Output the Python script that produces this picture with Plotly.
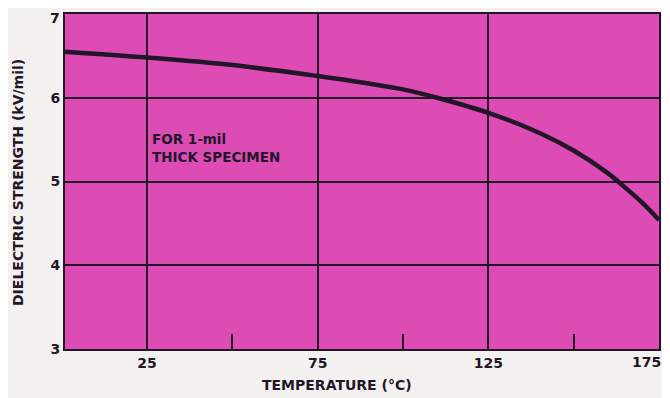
import plotly.graph_objects as go

temperature = [1, 25, 50, 75, 90, 100, 110, 125, 140, 150, 160, 165, 170, 175]
strength = [6.55, 6.48, 6.39, 6.26, 6.17, 6.10, 6.00, 5.82, 5.58, 5.37, 5.10, 4.93, 4.75, 4.54]
x_ticks = [25, 75, 125, 175]
x_labels = ["25", "75", "125", "175"]
y_ticks = [3, 4, 5, 6, 7]
y_labels = ["3", "4", "5", "6", "7"]
minor_x = [50, 100, 150]

ink = "#221628"
fnt = "DejaVu Sans, Verdana, Arial"
tick_font = dict(size=14, family=fnt, color=ink, weight="bold")

# page body adds an 8px offset; margins are given in figure pixels
OFF = 8
W, H = 670, 398
L, T = 65 - OFF, 14 - OFF
R = W - (659 - OFF)
B = H - (349 - OFF)
pw, ph = W - L - R, H - T - B


def px_to_paper(xp, yp):
    return (xp - OFF - L) / pw, (H - B - (yp - OFF)) / ph


fig = go.Figure()
fig.add_trace(go.Scatter(x=temperature, y=strength, mode="lines",
                         line=dict(color=ink, width=4.5, shape="spline", smoothing=1.0),
                         showlegend=False, hoverinfo="skip"))

fig.add_annotation(x=26, y=5.40, xref="x", yref="y", xanchor="left", yanchor="middle",
                   text="FOR 1-mil<br>THICK SPECIMEN", showarrow=False, align="left",
                   font=dict(family=fnt, size=13.5, color=ink, weight="bold"))

xt, yt = px_to_paper(337, 385)
fig.add_annotation(x=xt, y=yt, xref="paper", yref="paper", xanchor="center", yanchor="middle",
                   text="TEMPERATURE (°C)", showarrow=False,
                   font=dict(family=fnt, size=14, color=ink, weight="bold"))
xt, yt = px_to_paper(18, 183)
fig.add_annotation(x=xt, y=yt, xref="paper", yref="paper", xanchor="center", yanchor="middle",
                   text="DIELECTRIC STRENGTH (kV/mil)", showarrow=False, textangle=-90,
                   font=dict(family=fnt, size=14, color=ink, weight="bold"))

# edge tick labels drawn as annotations so they stay inside the page
fig.add_annotation(x=x_ticks[-1], y=0, xref="x", yref="paper", xanchor="right", yanchor="top",
                   xshift=4, yshift=-3, text=x_labels[-1], showarrow=False, font=tick_font)
fig.add_annotation(x=0, y=1 + T / ph, xref="paper", yref="paper", xanchor="right", yanchor="top",
                   xshift=-3, text=y_labels[-1], showarrow=False, font=tick_font)

fig.update_layout(
    width=W, height=H,
    margin=dict(l=L, r=R, t=T, b=B, autoexpand=False),
    paper_bgcolor="#f3f1ef",
    plot_bgcolor="#dc4cb4",
    font=dict(family=fnt, color=ink),
    xaxis=dict(range=[1, 175], tickvals=x_ticks, ticktext=x_labels[:-1] + [""],
               showgrid=True, gridcolor=ink, gridwidth=1.5,
               showline=True, linecolor=ink, linewidth=2, mirror=True,
               ticks="", zeroline=False, automargin=False,
               tickfont=tick_font,
               minor=dict(tickvals=minor_x, ticks="inside", ticklen=15,
                          tickcolor=ink, tickwidth=2, showgrid=False)),
    yaxis=dict(range=[3, 7], tickvals=y_ticks, ticktext=y_labels[:-1] + [""],
               showgrid=True, gridcolor=ink, gridwidth=1.5,
               showline=True, linecolor=ink, linewidth=2, mirror=True,
               ticks="", zeroline=False, automargin=False,
               tickfont=tick_font),
)

fig.write_html("out.html")
